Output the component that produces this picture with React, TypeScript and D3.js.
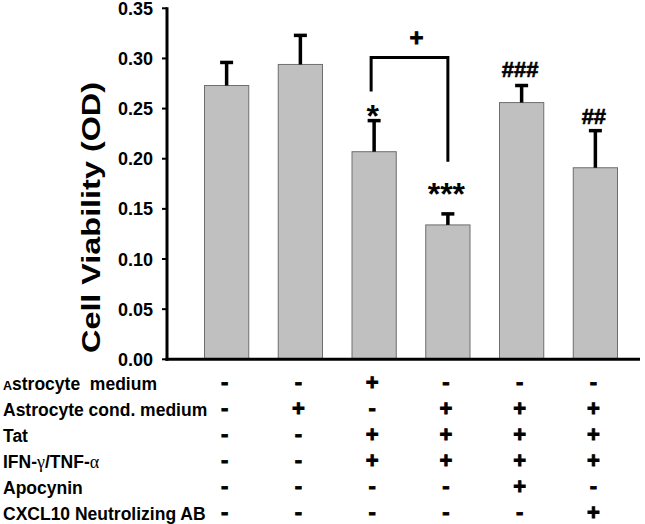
import React from "react";
import * as d3 from "d3";

// ---- data ----
const groups = ["G1", "G2", "G3", "G4", "G5", "G6"];
const viability = [0.273, 0.294, 0.207, 0.134, 0.256, 0.191];
const errors = [0.023, 0.029, 0.031, 0.011, 0.017, 0.037];
const annotations = ["", "", "*", "***", "###", "##"];
const yTicks = [0, 0.05, 0.1, 0.15, 0.2, 0.25, 0.3, 0.35];
const rowLabels = [
  "Astrocyte  medium",
  "Astrocyte cond. medium",
  "Tat",
  "IFN-γ/TNF-α",
  "Apocynin",
  "CXCL10 Neutrolizing AB",
];
const rowSigns = [
  ["-", "-", "+", "-", "-", "-"],
  ["-", "+", "-", "+", "+", "+"],
  ["-", "-", "+", "+", "+", "+"],
  ["-", "-", "+", "+", "+", "+"],
  ["-", "-", "-", "-", "+", "-"],
  ["-", "-", "-", "-", "-", "+"],
];
// bracket between group 3 and group 4 (values in OD units)
const bracketLabel = "+";
const bracketTop = 0.301;
const bracketLeftEnd = 0.267;
const bracketRightEnd = 0.197;

const FONT = "'Liberation Sans', Arial, sans-serif";

export default function App() {
  const W = 645;
  const H = 524;
  const axisX = 167;
  const y = d3.scaleLinear().domain([0, 0.35]).range([359.3, 8.3]);
  const x = d3
    .scaleBand<string>()
    .domain(groups)
    .range([175, 647])
    .paddingInner(0.4)
    .paddingOuter(0.4);
  const bw = x.bandwidth();
  const cx = (i: number) => (x(groups[i]) as number) + bw / 2;
  const rowY = d3.scalePoint<string>().domain(rowLabels).range([383, 513]);
  const annotGap = [0, 0, -6, 8.5, 9, 7];
  const annotSize = (s: string) => (s.startsWith("*") ? 32 : 22);

  const renderLabel = (label: string) => {
    if (label.startsWith("Astrocyte  ")) {
      return (
        <>
          <tspan fontSize={12.5}>A</tspan>
          <tspan>{label.slice(1)}</tspan>
        </>
      );
    }
    if (label.includes("γ")) {
      const parts = label.split(/([γα])/);
      return parts.map((p, i) =>
        p === "γ" || p === "α" ? (
          <tspan key={i} fontFamily="'Liberation Serif', serif" fontWeight="normal" fontSize={18}>
            {p}
          </tspan>
        ) : (
          <tspan key={i}>{p}</tspan>
        )
      );
    }
    return label;
  };

  const lx = cx(2) - 3;
  const rx = cx(3);

  return (
    <svg
      width={W}
      height={H}
      style={{ position: "absolute", left: 0, top: 0, background: "#fff" }}
      fontFamily={FONT}
    >
      <rect width={W} height={H} fill="#fff" />
      {/* bars */}
      {groups.map((g, i) => (
        <rect
          key={g}
          x={x(g)}
          y={y(viability[i])}
          width={bw}
          height={y(0) - y(viability[i])}
          fill="#c0c0c0"
          stroke="#6e6e6e"
          strokeWidth={1}
        />
      ))}
      {/* error bars */}
      {groups.map((g, i) => {
        const top = y(viability[i] + errors[i]);
        return (
          <g key={"e" + g} stroke="#000" strokeWidth={3.5}>
            <line x1={cx(i)} x2={cx(i)} y1={y(viability[i])} y2={top} />
            <line x1={cx(i) - 6.5} x2={cx(i) + 6.5} y1={top} y2={top} />
          </g>
        );
      })}
      {/* annotations */}
      {groups.map((g, i) =>
        annotations[i] ? (
          <text
            key={"a" + g}
            x={cx(i) - 1.5}
            y={y(viability[i] + errors[i]) - annotGap[i]}
            textAnchor="middle"
            fontWeight="bold"
            fontSize={annotSize(annotations[i])}
            stroke="#000"
            strokeWidth={annotations[i].startsWith("#") ? 0.6 : 0}
          >
            {annotations[i]}
          </text>
        ) : null
      )}
      {/* bracket */}
      <path
        d={`M${lx},${y(bracketLeftEnd)}V${y(bracketTop)}H${rx}V${y(bracketRightEnd)}`}
        fill="none"
        stroke="#000"
        strokeWidth={3}
      />
      <text
        x={(lx + rx) / 2 + 7}
        y={y(bracketTop) - 11}
        textAnchor="middle"
        fontWeight="bold"
        fontSize={24}
        stroke="#000"
        strokeWidth={0.8}
      >
        {bracketLabel}
      </text>
      {/* y axis */}
      <line x1={axisX} x2={axisX} y1={y(0.35) - 1} y2={y(0) + 1.5} stroke="#000" strokeWidth={3} />
      {yTicks.map((t) => (
        <g key={t}>
          <line x1={axisX - 5} x2={axisX} y1={y(t)} y2={y(t)} stroke="#000" strokeWidth={2} />
          <text
            x={153}
            y={y(t) + 6.5}
            textAnchor="end"
            fontWeight="bold"
            fontSize={18}
          >
            {d3.format(".2f")(t)}
          </text>
        </g>
      ))}
      <text
        transform={`translate(100,217.5) rotate(-90)`}
        textAnchor="middle"
        fontWeight="bold"
        fontSize={25}
        textLength={271}
        lengthAdjust="spacingAndGlyphs"
      >
        Cell Viability (OD)
      </text>
      {/* x axis */}
      <line x1={axisX - 1.5} x2={640} y1={y(0)} y2={y(0)} stroke="#000" strokeWidth={3} />
      {/* table */}
      {rowLabels.map((label, r) => (
        <g key={label}>
          <text
            x={3}
            y={(rowY(label) as number) + 6.5}
            fontWeight="bold"
            fontSize={17.5}
            style={{ whiteSpace: "pre" }}
          >
            {renderLabel(label)}
          </text>
          {rowSigns[r].map((s, i) => {
            const fs = 22;
            const c = rowY(label) as number;
            return (
              <text
                key={i}
                x={cx(i) - 2}
                y={c + (s === "+" ? 0.33 : 0.27) * fs}
                textAnchor="middle"
                fontWeight="bold"
                fontSize={fs}
                stroke="#000"
                strokeWidth={0.9}
              >
                {s}
              </text>
            );
          })}
        </g>
      ))}
    </svg>
  );
}
